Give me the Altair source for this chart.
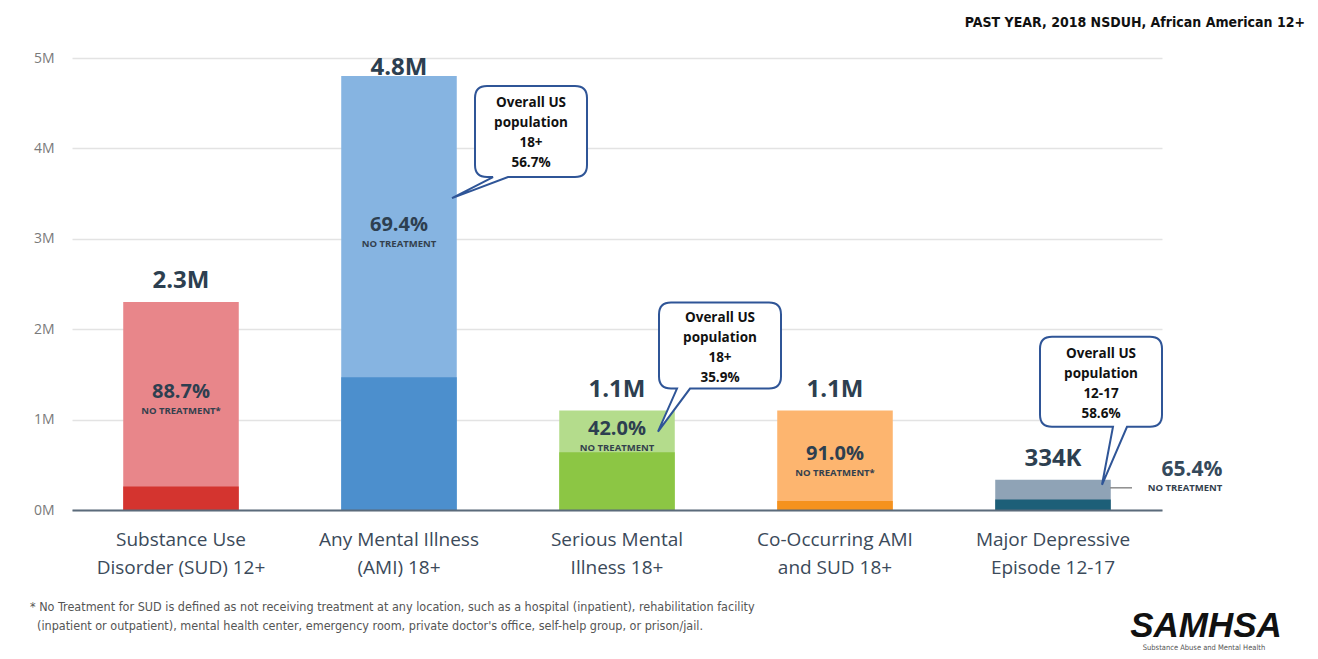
import altair as alt
import pandas as pd

# ---------------- data ----------------
categories = [
    "Substance Use\nDisorder (SUD) 12+",
    "Any Mental Illness\n(AMI) 18+",
    "Serious Mental\nIllness 18+",
    "Co-Occurring AMI\nand SUD 18+",
    "Major Depressive\nEpisode 12-17",
]
keys = ["SUD", "AMI", "SMI", "COD", "MDE"]
totals = [2.3e6, 4.8e6, 1.1e6, 1.1e6, 0.334e6]
total_labels = ["2.3M", "4.8M", "1.1M", "1.1M", "334K"]
no_treatment_pct = [88.7, 69.4, 42.0, 91.0, 65.4]
no_treatment_notes = ["NO TREATMENT*", "NO TREATMENT", "NO TREATMENT",
                      "NO TREATMENT*", "NO TREATMENT"]

callout_keys = ["AMI", "SMI", "MDE"]
callout_ages = ["18+", "18+", "12-17"]
callout_us_pct = [56.7, 35.9, 58.6]

y_ticks = [0, 1e6, 2e6, 3e6, 4e6, 5e6]

title_text = "PAST YEAR, 2018 NSDUH, African American 12+"
footnote_lines = [
    "* No Treatment for SUD is defined as not receiving treatment at any location, such as a hospital (inpatient), rehabilitation facility",
    "(inpatient or outpatient), mental health center, emergency room, private doctor's office, self-help group, or prison/jail.",
]
logo_text = "SAMHSA"
logo_sub_text = "Substance Abuse and Mental Health"

# ---------------- styles ----------------
light_colors = ["#e8868a", "#86b4e1", "#b4dc8c", "#fdb56f", "#8fa3b6"]
dark_colors = ["#d4342f", "#4c8fcd", "#8cc644", "#f5921e", "#1d5f78"]
FONT = "Open Sans"
NARROW = "Liberation Sans Narrow, DejaVu Sans Condensed, Liberation Sans"
TXT = "#2d3f50"
BORDER = "#2f5597"

df = pd.DataFrame({
    "category": categories,
    "key": keys,
    "total": totals,
    "total_label": total_labels,
    "pct": no_treatment_pct,
    "note": no_treatment_notes,
})
df["treated"] = df["total"] * (1 - df["pct"] / 100)
df["mid"] = (df["total"] + df["treated"]) / 2
df["pct_label"] = df["pct"].map(lambda v: f"{v:.1f}%")

co = pd.DataFrame({"key": callout_keys, "age": callout_ages, "us": callout_us_pct})
co["text"] = co.apply(lambda r: f"Overall US\npopulation\n{r['age']}\n{r['us']:.1f}%", axis=1)
co = co.merge(df[["key", "category", "total"]], on="key")

base = alt.Chart(df)
x_enc = alt.X(
    "category:N",
    sort=categories,
    scale=alt.Scale(paddingInner=0.47, paddingOuter=0.235),
    axis=alt.Axis(
        title=None, labelAngle=0, ticks=False, labelPadding=20,
        labelExpr="split(datum.label, '\\n')", labelLineHeight=28,
        labelFont=FONT, labelFontSize=19, labelColor="#3b4a5a",
        domainColor="#5b6b7b", domainWidth=2, grid=False, zindex=1,
    ),
)
x_plain = alt.X("category:N", sort=categories)
y_scale = alt.Scale(domain=[0, 5e6], nice=False)
y_axis = alt.Axis(
    title=None, values=y_ticks, labelExpr="datum.value / 1000000 + 'M'",
    domain=False, ticks=False, labelPadding=18, labelFont=FONT, labelFontSize=14,
    labelColor="#7a7a7a", gridColor="#e3e3e3", gridWidth=1.5,
)

light = base.mark_bar().encode(
    x=x_enc,
    y=alt.Y("total:Q", scale=y_scale, axis=y_axis),
    color=alt.Color("key:N", scale=alt.Scale(domain=keys, range=light_colors), legend=None),
)
dark = base.mark_bar().encode(
    x=x_plain,
    y=alt.Y("treated:Q", scale=y_scale),
    color=alt.Color("key:N", scale=alt.Scale(domain=keys, range=dark_colors), legend=None),
)
bars = alt.layer(light, dark).resolve_scale(color="independent")

tot_lbl = base.mark_text(
    font=FONT, fontSize=24, fontWeight="bold", color=TXT,
    baseline="alphabetic", dy=-14,
).encode(x=x_plain, y=alt.Y("total:Q", scale=y_scale),
         text="total_label:N").transform_filter("datum.key != 'AMI'")
tot_lbl_ami = base.mark_text(
    font=FONT, fontSize=24, fontWeight="bold", color=TXT,
    baseline="alphabetic", dy=-1,
).encode(x=x_plain, y=alt.Y("total:Q", scale=y_scale),
         text="total_label:N").transform_filter("datum.key == 'AMI'")

inner = base.transform_filter("datum.key != 'MDE'")
pct_lbl = inner.mark_text(
    font=FONT, fontSize=20, fontWeight="bold", color=TXT, baseline="middle", dy=-2,
).encode(x=x_plain, y=alt.Y("mid:Q", scale=y_scale), text="pct_label:N")
note_lbl = inner.mark_text(
    font=FONT, fontSize=9.5, fontWeight="bold", color="#33404d", baseline="middle", dy=17,
).encode(x=x_plain, y=alt.Y("mid:Q", scale=y_scale), text="note:N")

outer = base.transform_filter("datum.key == 'MDE'")
mde_pct = outer.mark_text(
    font=FONT, fontSize=21, fontWeight="bold", color="#35495b", baseline="middle",
    dx=139, dy=-10,
).encode(x=x_plain, y=alt.Y("total:Q", scale=y_scale), text="pct_label:N")
mde_note = outer.mark_text(
    font=FONT, fontSize=9.5, fontWeight="bold", color="#33404d", baseline="middle",
    dx=132, dy=8,
).encode(x=x_plain, y=alt.Y("total:Q", scale=y_scale), text="note:N")
mde_line = outer.mark_point(
    shape="M57,8L79,8", size=4, filled=False, stroke="#8c8c8c", strokeWidth=1.5, opacity=1,
).encode(x=x_plain, y=alt.Y("total:Q", scale=y_scale))


def bubble(x0, x1, y0, y1, bx0, bx1, tx, ty, r=12):
    return (
        f"M{x0 + r},{y0}L{x1 - r},{y0}Q{x1},{y0} {x1},{y0 + r}"
        f"L{x1},{y1 - r}Q{x1},{y1} {x1 - r},{y1}"
        f"L{bx1},{y1}L{tx},{ty}L{bx0},{y1}"
        f"L{x0 + r},{y1}Q{x0},{y1} {x0},{y1 - r}"
        f"L{x0},{y0 + r}Q{x0},{y0} {x0 + r},{y0}Z"
    )


bubble_geom = {
    "AMI": dict(shape=bubble(76, 188, 10, 101, 94, 109, 53, 122), tx=132, ty=57),
    "SMI": dict(shape=bubble(42, 164, -108, -22, 60, 73, 41, 21), tx=103, ty=-63),
    "MDE": dict(shape=bubble(-13, 109, -143, -53, 60, 74, 49, 5), tx=48, ty=-96),
}
LINE_H = 20

callouts = []
cbase = alt.Chart(co)
for k in callout_keys:
    g = bubble_geom[k]
    sel = cbase.transform_filter(f"datum.key == '{k}'")
    callouts.append(sel.mark_point(
        shape=g["shape"], size=4, filled=True, fill="white", stroke=BORDER,
        strokeWidth=2, opacity=1,
    ).encode(x=x_plain, y=alt.Y("total:Q", scale=y_scale)))
    callouts.append(sel.mark_text(
        font=FONT, fontSize=13.5, fontWeight="bold", color="#111111",
        lineBreak="\n", lineHeight=LINE_H, align="center", baseline="middle",
        dx=g["tx"], dy=g["ty"] - 1.5 * LINE_H,
    ).encode(x=x_plain, y=alt.Y("total:Q", scale=y_scale), text="text:N"))

# page-level annotations (pixel positions relative to plot origin)
title = alt.Chart(pd.DataFrame({"t": [title_text]})).mark_text(
    font=NARROW, fontSize=14, fontWeight="bold", color="#111111",
    align="right", baseline="middle",
).encode(x=alt.value(1233), y=alt.value(-35), text="t:N")

foot1 = alt.Chart(pd.DataFrame({"t": [footnote_lines[0]]})).mark_text(
    font=NARROW, fontSize=12.5, color="#555555", align="left", baseline="middle",
).encode(x=alt.value(-42), y=alt.value(549), text="t:N")
foot2 = alt.Chart(pd.DataFrame({"t": [footnote_lines[1]]})).mark_text(
    font=NARROW, fontSize=12.5, color="#555555", align="left", baseline="middle",
).encode(x=alt.value(-35), y=alt.value(568), text="t:N")

logo = alt.Chart(pd.DataFrame({"t": [logo_text]})).mark_text(
    font="Liberation Sans", fontSize=35, fontWeight="bold", fontStyle="italic",
    color="#111111", align="center", baseline="alphabetic",
).encode(x=alt.value(1134), y=alt.value(579), text="t:N")
logo_sub = alt.Chart(pd.DataFrame({"t": [logo_sub_text]})).mark_text(
    font=NARROW, fontSize=7.5, color="#555555", align="center", baseline="middle",
).encode(x=alt.value(1132), y=alt.value(590), text="t:N")

chart = alt.layer(
    bars, tot_lbl, tot_lbl_ami, pct_lbl, note_lbl, mde_line, mde_pct, mde_note,
    *callouts, title, foot1, foot2, logo, logo_sub,
).properties(
    width=1090, height=452,
    autosize=alt.AutoSizeParams(type="none"),
    padding={"left": 64, "top": 50, "right": 148, "bottom": 141},
    background="white",
).configure_view(stroke=None)

chart.save("out.html", embed_options={"renderer": "svg", "actions": False})
